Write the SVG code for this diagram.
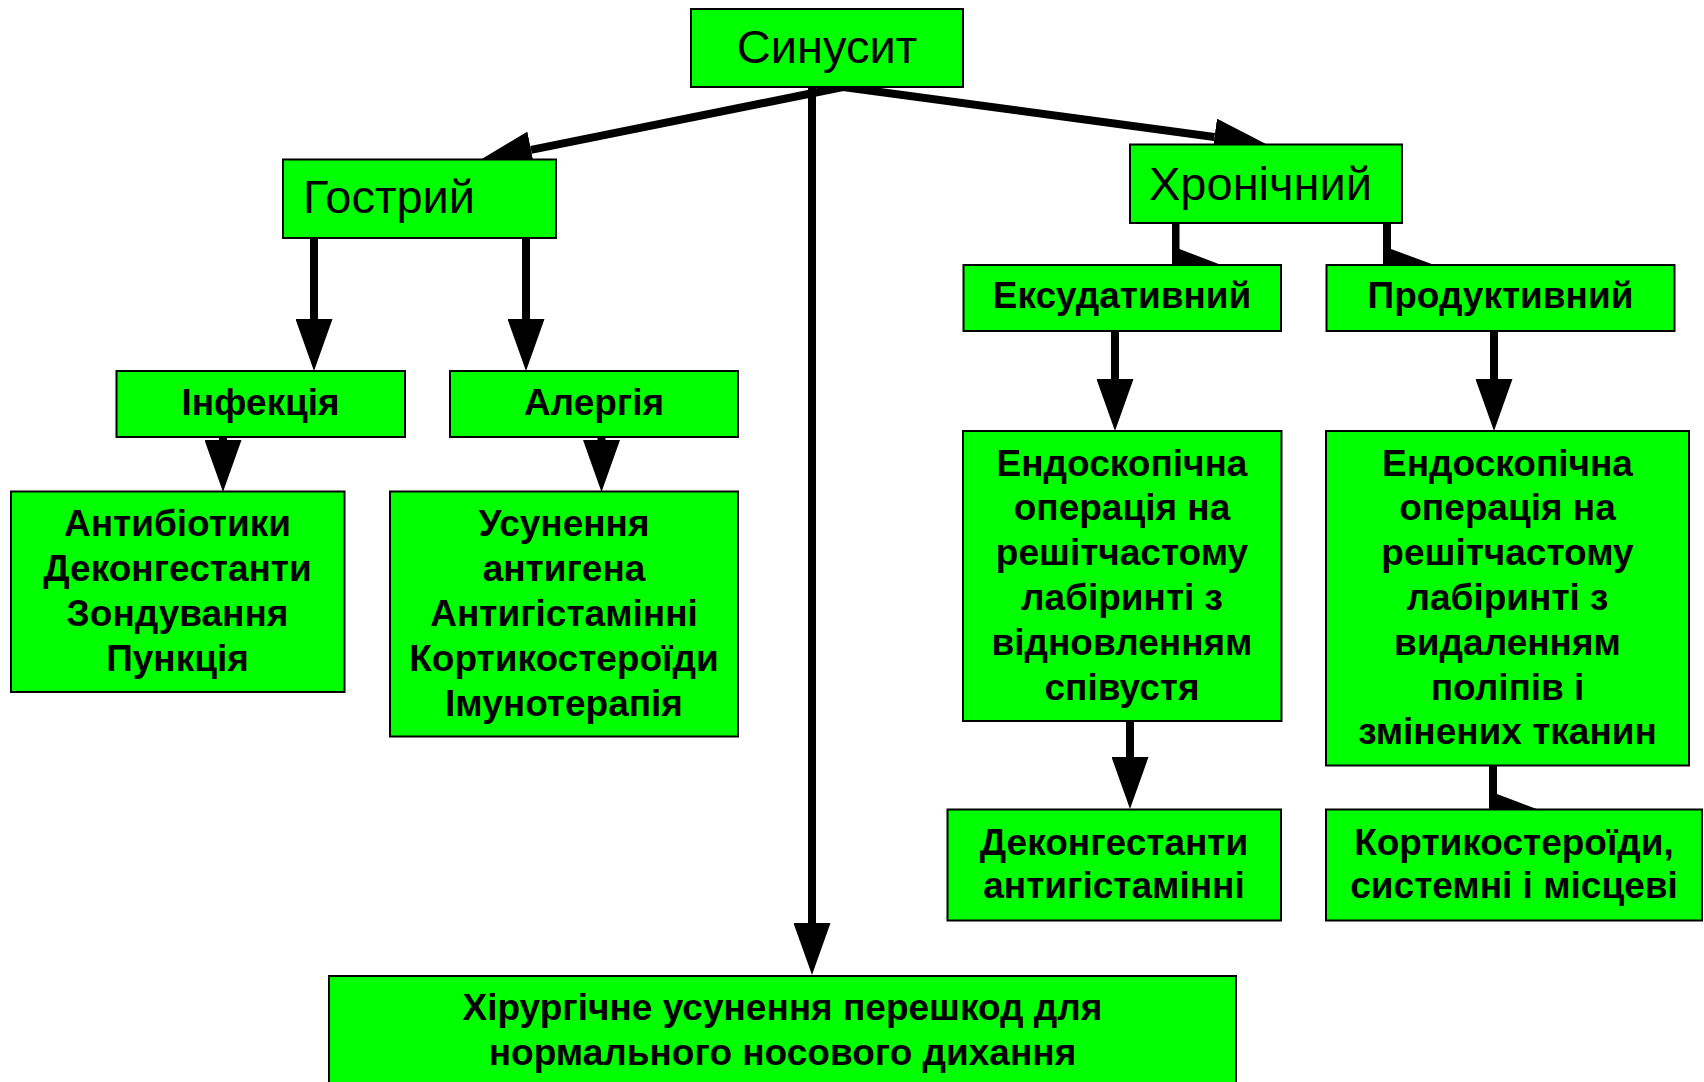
<svg xmlns="http://www.w3.org/2000/svg" width="1704" height="1082" viewBox="0 0 1704 1082">
<style>
.box{fill:#00ff00;stroke:#000;stroke-width:2}
.t{font-family:"Liberation Sans",Arial,sans-serif;fill:#000}
.big{font-size:47px}
.b{font-size:37px;font-weight:bold;text-anchor:middle}
.ln{stroke:#000;stroke-width:8;fill:none}
.hd{fill:#000}
</style>
<defs>
<marker id="arr" viewBox="0 0 52 37" refX="0" refY="18.5" markerWidth="52" markerHeight="37" markerUnits="userSpaceOnUse" orient="auto">
<path d="M0,0 L52,18.5 L0,37 Z" fill="#000"/>
</marker>
</defs>
<rect width="1704" height="1082" fill="#fff"/>
<g id="connectors">
<line class="ln" x1="843" y1="87" x2="531" y2="149.8" marker-end="url(#arr)"/>
<line class="ln" x1="843" y1="87" x2="1214.5" y2="137" marker-end="url(#arr)"/>
<line class="ln" x1="812" y1="86" x2="812" y2="923" marker-end="url(#arr)"/>
<line class="ln" x1="314" y1="237" x2="314" y2="319" marker-end="url(#arr)"/>
<line class="ln" x1="526" y1="237" x2="526" y2="319" marker-end="url(#arr)"/>
<line class="ln" x1="223" y1="436" x2="223" y2="440" marker-end="url(#arr)"/>
<line class="ln" x1="601.5" y1="436" x2="601.5" y2="440" marker-end="url(#arr)"/>
<path class="hd" d="M1172,222 L1179.5,222 L1179.5,249 L1220,264.5 L1172,264.5 Z"/>
<path class="hd" d="M1383,222 L1391,222 L1391,249 L1433,264.5 L1383,264.5 Z"/>
<line class="ln" x1="1115" y1="330" x2="1115" y2="379" marker-end="url(#arr)"/>
<line class="ln" x1="1494" y1="330" x2="1494" y2="379" marker-end="url(#arr)"/>
<line class="ln" x1="1130" y1="720" x2="1130" y2="757" marker-end="url(#arr)"/>
<path class="hd" d="M1489,764 L1497,764 L1497,794 L1538,809.5 L1489,809.5 Z"/>
</g>
<g id="n-sinusyt">
<rect class="box" x="691" y="9" width="272" height="78"/>
<text class="t big" x="827" y="63" text-anchor="middle">Синусит</text>
</g>
<g id="n-hostryi">
<rect class="box" x="283" y="159.5" width="273" height="78.5"/>
<text class="t big" x="303" y="213">Гострий</text>
</g>
<g id="n-khronichnyi">
<rect class="box" x="1130" y="144.5" width="272" height="78.5"/>
<text class="t big" x="1149" y="200">Хронічний</text>
</g>
<g id="n-infektsiia">
<rect class="box" x="116.5" y="371" width="288.5" height="66"/>
<text class="t b" x="260.5" y="415">Інфекція</text>
</g>
<g id="n-alerhiia">
<rect class="box" x="450" y="371" width="288" height="66"/>
<text class="t b" x="594" y="415">Алергія</text>
</g>
<g id="n-antybiotyky">
<rect class="box" x="11" y="491.5" width="333.5" height="200.5"/>
<text class="t b" x="177.5" y="535.5">Антибіотики<tspan x="177.5" dy="45">Деконгестанти</tspan><tspan x="177.5" dy="45">Зондування</tspan><tspan x="177.5" dy="45">Пункція</tspan></text>
</g>
<g id="n-usunennia">
<rect class="box" x="390" y="491.5" width="348" height="245"/>
<text class="t b" x="564" y="535.5">Усунення<tspan x="564" dy="45">антигена</tspan><tspan x="564" dy="45">Антигістамінні</tspan><tspan x="564" dy="45">Кортикостероїди</tspan><tspan x="564" dy="45">Імунотерапія</tspan></text>
</g>
<g id="n-eksudatyvnyi">
<rect class="box" x="963.5" y="265" width="317.5" height="66"/>
<text class="t b" x="1122" y="308">Ексудативний</text>
</g>
<g id="n-produktyvnyi">
<rect class="box" x="1326.5" y="265" width="348" height="66"/>
<text class="t b" x="1500.5" y="308">Продуктивний</text>
</g>
<g id="n-endo-left">
<rect class="box" x="963" y="431" width="318.5" height="290"/>
<text class="t b" x="1122" y="475.5">Ендоскопічна<tspan x="1122" dy="44.8">операція на</tspan><tspan x="1122" dy="44.8">решітчастому</tspan><tspan x="1122" dy="44.8">лабіринті з</tspan><tspan x="1122" dy="44.8">відновленням</tspan><tspan x="1122" dy="44.8">співустя</tspan></text>
</g>
<g id="n-endo-right">
<rect class="box" x="1326" y="431" width="363" height="334.5"/>
<text class="t b" x="1507.5" y="475.5">Ендоскопічна<tspan x="1507.5" dy="44.8">операція на</tspan><tspan x="1507.5" dy="44.8">решітчастому</tspan><tspan x="1507.5" dy="44.8">лабіринті з</tspan><tspan x="1507.5" dy="44.8">видаленням</tspan><tspan x="1507.5" dy="44.8">поліпів і</tspan><tspan x="1507.5" dy="44.8">змінених тканин</tspan></text>
</g>
<g id="n-dekonhestanty">
<rect class="box" x="947.5" y="809.5" width="333.5" height="111"/>
<text class="t b" x="1114" y="855">Деконгестанти<tspan x="1114" dy="43">антигістамінні</tspan></text>
</g>
<g id="n-kortykosteroidy">
<rect class="box" x="1326" y="809.5" width="376" height="111"/>
<text class="t b" x="1514" y="855">Кортикостероїди,<tspan x="1514" dy="43">системні і місцеві</tspan></text>
</g>
<g id="n-khirurhichne">
<rect class="box" x="329" y="976" width="907" height="120"/>
<text class="t b" x="782.5" y="1019.5">Хірургічне усунення перешкод для<tspan x="782.5" dy="45">нормального носового дихання</tspan></text>
</g>
</svg>
